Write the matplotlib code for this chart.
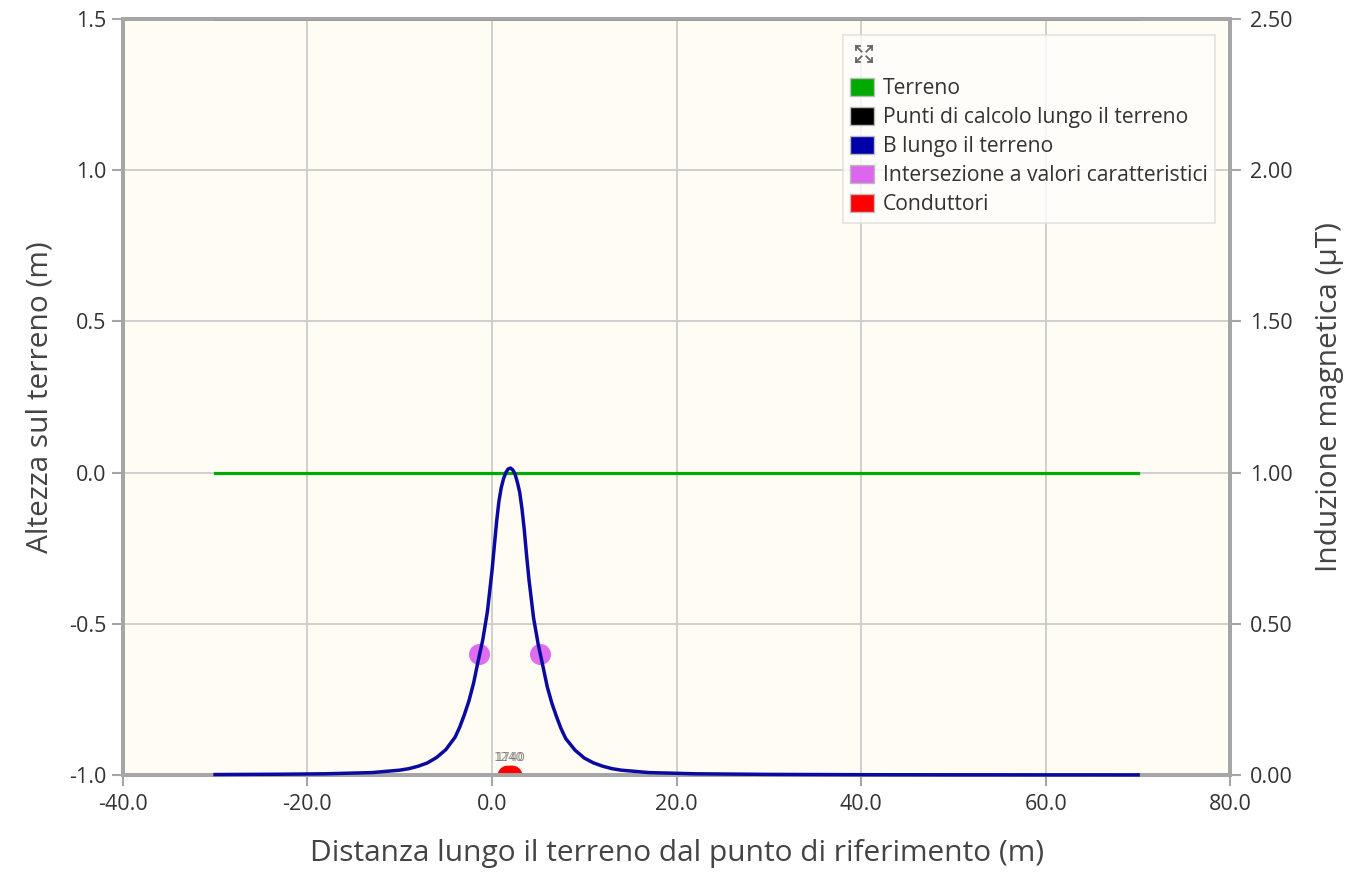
import matplotlib
matplotlib.use("Agg")
import matplotlib.pyplot as plt
from matplotlib.patches import Patch
from matplotlib.lines import Line2D

# ---- data ----
terrain_x = [-30.0, 70.0]
terrain_y = [0.0, 0.0]
calc_x = [-30.0, 70.0]
calc_y = [1.5, 1.5]

b_x = [-30, -23, -18, -13, -10, -9, -8, -7, -6, -5, -4, -3.5, -3, -2.5, -2,
       -1.5, -1, -0.5, 0, 0.25, 0.5, 0.75, 1.0, 1.25, 1.5, 1.75, 2.0, 2.25,
       2.5, 2.75, 3.0, 3.25, 3.5, 3.75, 4.0, 4.5, 5.0, 5.5, 6.0, 6.5, 7.0,
       7.5, 8, 9, 10, 11, 12, 13, 14, 17, 22, 30, 40, 50, 60, 70]
b_val = [0.0015, 0.0025, 0.004, 0.008, 0.016, 0.021, 0.029, 0.040, 0.058,
         0.084, 0.125, 0.158, 0.199, 0.245, 0.303, 0.377, 0.447, 0.540, 0.675,
         0.757, 0.838, 0.905, 0.950, 0.980, 1.000, 1.012, 1.015, 1.009, 0.995,
         0.968, 0.935, 0.880, 0.810, 0.725, 0.648, 0.520, 0.433, 0.362, 0.290,
         0.236, 0.192, 0.152, 0.120, 0.082, 0.056, 0.040, 0.029, 0.021, 0.016,
         0.008, 0.004, 0.002, 0.001, 0.0006, 0.0004, 0.0003]

inters_x = [-1.45, 5.25]
inters_b = [0.4, 0.4]

cond_x = [1.6, 1.9, 2.2]
cond_y = [-1.0, -1.0, -1.0]
cond_labels = ["1240", "1740"]
cond_label_x = [1.8, 2.0]

x_ticks = [-40, -20, 0, 20, 40, 60, 80]
y_ticks = [-1.0, -0.5, 0.0, 0.5, 1.0, 1.5]
r_ticks = [0.0, 0.5, 1.0, 1.5, 2.0, 2.5]

legend_labels = ["Terreno", "Punti di calcolo lungo il terreno", "B lungo il terreno",
                 "Intersezione a valori caratteristici", "Conduttori"]
legend_colors = ["#00aa00", "#000000", "#0000aa", "#dd66ee", "#ff0000"]

# ---- figure ----
plt.rcParams['font.family'] = ['Open Sans', 'DejaVu Sans']
W, H = 1363, 875
fig = plt.figure(figsize=(W / 100, H / 100), dpi=100, facecolor='white')
L, R, T, B = 122.8, 1230.4, 19, 775
ax = fig.add_axes([L / W, 1 - B / H, (R - L) / W, (B - T) / H])
ax.set_facecolor('#fffcf4')
ax.set_xlim(-40, 80)
ax.set_ylim(-1.0, 1.5)
ax.set_xticks(x_ticks)
ax.set_xticklabels([f"{v:.1f}" for v in x_ticks])
ax.set_yticks(y_ticks)
ax.set_yticklabels([f"{v:.1f}" for v in y_ticks])
ax.grid(True, color='#cccccc', linewidth=1.3)
ax.set_axisbelow(True)

ax2 = ax.twinx()
ax2.set_ylim(0, 2.5)
ax2.set_yticks(r_ticks)
ax2.set_yticklabels([f"{v:.2f}" for v in r_ticks])

for a in (ax, ax2):
    for s in a.spines.values():
        s.set_color('#a6a6a6')
        s.set_linewidth(2.8)
    a.tick_params(colors='#a6a6a6', labelcolor='#333333', labelsize=15.5,
                  length=8, width=1.5)
ax.tick_params(axis='x', pad=6)
ax.tick_params(axis='y', pad=4)
ax2.tick_params(axis='y', pad=6)

ax.plot(terrain_x, terrain_y, color='#00aa00', lw=2.3, zorder=3)
ax.plot(calc_x, calc_y, color='#000000', lw=2.0, zorder=3, clip_on=False)
ax.scatter(cond_x, cond_y, s=200, color='#ff0000', zorder=4, clip_on=True, linewidths=0)
for lab, lx in zip(cond_labels, cond_label_x):
    ax.text(lx, -0.965, lab, fontsize=8.5, color='#666666', ha='center', va='bottom',
            family='DejaVu Sans', alpha=0.7)

ax2.plot(b_x, b_val, color='#0a0aa0', lw=2.5, zorder=3, clip_on=False,
         solid_joinstyle='round')
ax2.scatter(inters_x, inters_b, s=230, color='#dd66ee', alpha=0.95, zorder=2, linewidths=0)

ax.set_xlabel("Distanza lungo il terreno dal punto di riferimento (m)", fontsize=21.5,
              color='#444444', labelpad=17)
ax.set_ylabel("Altezza sul terreno (m)", fontsize=21.5, color='#444444', labelpad=10)
ax2.set_ylabel("Induzione magnetica (µT)", fontsize=21.5, color='#444444', labelpad=16)

handles = [Patch(facecolor=c, edgecolor='#bbbbbb', linewidth=1.0) for c in legend_colors]
leg = ax2.legend(handles, legend_labels, loc='upper left',
                 bbox_to_anchor=((843 - L) / (R - L), (B - 35) / (B - T)),
                 frameon=True, fancybox=False, fontsize=15.2, title=' ',
                 title_fontsize=20, handlelength=1.1, handleheight=0.95,
                 handletextpad=0.45, labelspacing=0.36, borderpad=0.35,
                 borderaxespad=0.0, labelcolor='#333333')
leg.get_frame().set_edgecolor('#dddddd')
leg.get_frame().set_facecolor('#fffefb')
leg.get_frame().set_linewidth(1.2)

# expand icon
cx, cy, r = 864 / W, 1 - 54 / H, 8
dx, dy = r / W, r / H
for sx, sy in [(-1, 1), (1, 1), (-1, -1), (1, -1)]:
    x0, y0 = cx + sx * dx * 0.3, cy + sy * dy * 0.3
    x1, y1 = cx + sx * dx, cy + sy * dy
    fig.add_artist(Line2D([x0, x1], [y0, y1], color='#666666', lw=1.3))
    fig.add_artist(Line2D([x1 - sx * dx * 0.5, x1], [y1, y1], color='#666666', lw=1.3))
    fig.add_artist(Line2D([x1, x1], [y1 - sy * dy * 0.5, y1], color='#666666', lw=1.3))

fig.savefig('out.png', dpi=100, facecolor='white')
